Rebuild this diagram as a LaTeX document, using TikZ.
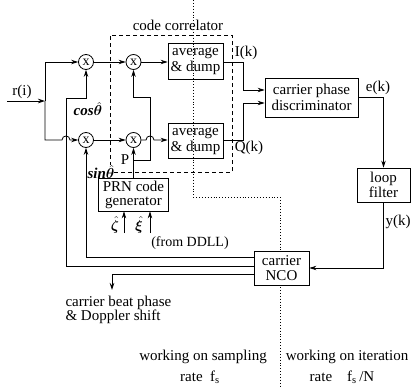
\documentclass[tikz,border=0pt]{standalone}
\usepackage{fontspec}
\setmainfont{Liberation Serif}
\usepackage{bm}
\usetikzlibrary{arrows.meta,calc}
\begin{document}
\begin{tikzpicture}[x=1pt,y=-1pt,
  every node/.style={font=\fontsize{15}{16}\selectfont},
  ln/.style={line width=0.8pt},
  arr/.style={line width=0.8pt,-{Stealth[length=7pt,width=4.5pt]}},
  mixer/.style={draw,line width=0.8pt,circle,minimum size=15pt,inner sep=0pt,font=\fontsize{14}{14}\selectfont},
  blk/.style={draw,line width=0.8pt,align=center,inner sep=0pt},
  bound/.style={dotted,line width=0.9pt},
  corr/.style={line width=0.8pt,dash pattern=on 4pt off 3pt},
]
\useasboundingbox (0,0) rectangle (412,388);
% rate boundary
\draw[bound] (193,0) -- (193,197) -- (280,197) -- (280,388);
% code correlator
\draw[corr] (114,172) -- (232,172) -- (232,35) -- (110,35) -- (110,165);
\node (cc) at (178,25) {code correlator};
% mixers
\node[mixer] (mA) at (86,62) {x};
\node[mixer] (mB) at (86,140) {x};
\node[mixer] (mC) at (133.5,62) {x};
\node[mixer] (mD) at (133.5,140) {x};
% blocks
\node[blk,minimum width=55pt,minimum height=36pt] (avgI) at (195.5,61) {average\\\& dump};
\node[blk,minimum width=55pt,minimum height=35pt] (avgQ) at (195.5,141) {average\\\& dump};
\node[blk,minimum width=93pt,minimum height=39pt] (disc) at (311.5,97.5) {carrier phase\\discriminator};
\node[blk,minimum width=53pt,minimum height=34pt,font=\fontsize{15}{13}\selectfont] (lf) at (383.5,185) {loop\\filter};
\node[blk,fill=white,minimum width=55pt,minimum height=34pt,font=\fontsize{15}{15}\selectfont] (nco) at (281.5,268) {carrier\\NCO};
\node[blk,minimum width=70pt,minimum height=33pt,font=\fontsize{15}{14}\selectfont] (prn) at (133.5,194.5) {PRN code\\generator};
% input
\coordinate (rin) at (7,101);
\coordinate (j) at (45,101);
\node (rl) at (22,92) {r(i)};
\draw[arr] (rin) -- (j);
\draw[arr] (j) |- (mA.west);
\draw[arr] (j) |- (62,140) .. controls (62,134.7) and (70,134.7) .. (70,140) -- (mB.west);
\draw[arr] (mA.east) -- (mC.west);
\draw[arr] (mB.east) -- (mD.west);
\draw[arr] (mC.east) -- (mC.east -| avgI.west);
\draw[arr] (mD.east) -- (146,140) .. controls (146,134.7) and (154,134.7) .. (154,140) -- (mD.east -| avgQ.west);
% code P
\draw[arr] (prn.north) -- (mD.south);
\coordinate (pb) at (133.5,160);
\draw[arr] (pb) -- (150,160) -- (150,97) -- (133.5,97) -- (mC.south);
\node (pl) at (125,160) {P};
% I, Q to discriminator
\draw[arr] (avgI.east |- mC.east) -- (243,62) |- ($(disc.west)+(0,-7.5)$);
\draw[arr] (avgQ.east |- mD.east) -- (243,140) |- ($(disc.west)+(0,5.5)$);
\node (il) at (246,53) {I(k)};
\node (ql) at (249,148) {Q(k)};
% loop
\draw[arr] (disc.east) -| (lf.north);
\node (el) at (378,88) {e(k)};
\draw[arr] (lf.south) |- (nco.east);
\node (yl) at (398,222) {y(k)};
% NCO outputs
\coordinate (n1) at ($(nco.west)+(0,-11)$);
\coordinate (n2) at ($(nco.west)+(0,-2)$);
\coordinate (n3) at ($(nco.west)+(0,6)$);
\draw[arr] (n2) -- (66,266) -- (66,98) -- (86,98) -- (mA.south);
\draw[arr] (n1) -| (mB.south);
\coordinate (cb) at (112,290);
\draw[arr] (n3) -| (cb);
\node[inner sep=0pt] (cosl) at (88,109) {\bfseries\itshape cos$\bm{\hat\theta}$};
\node[inner sep=0pt] (sinl) at (101,172) {\bfseries\itshape sin$\bm{\hat\theta}$};
% DDLL inputs
\coordinate (z0) at (124,233);
\coordinate (x0) at (150,233);
\draw[arr] (z0) -- (z0 |- prn.south);
\draw[arr] (x0) -- (x0 |- prn.south);
\node[inner sep=0pt] (zl) at (115,225) {$\bm{\hat\zeta}$};
\node[inner sep=0pt] (xl) at (139,225) {$\bm{\hat\xi}$};
\node[font=\fontsize{14}{15}\selectfont] (dl) at (190,243) {(from DDLL)};
% outputs text
\node[align=left,anchor=west,font=\fontsize{15}{13}\selectfont] (beat) at (62,310) {carrier beat phase\\\& Doppler shift};
\node (w1) at (203,357) {working on sampling};
\node (w2) at (200,377) {rate\enspace f\textsubscript{s}};
\node (w3) at (347,357) {working on iteration};
\node (w4) at (342,377) {rate\quad f\textsubscript{s}\,/N};
\end{tikzpicture}
\end{document}
